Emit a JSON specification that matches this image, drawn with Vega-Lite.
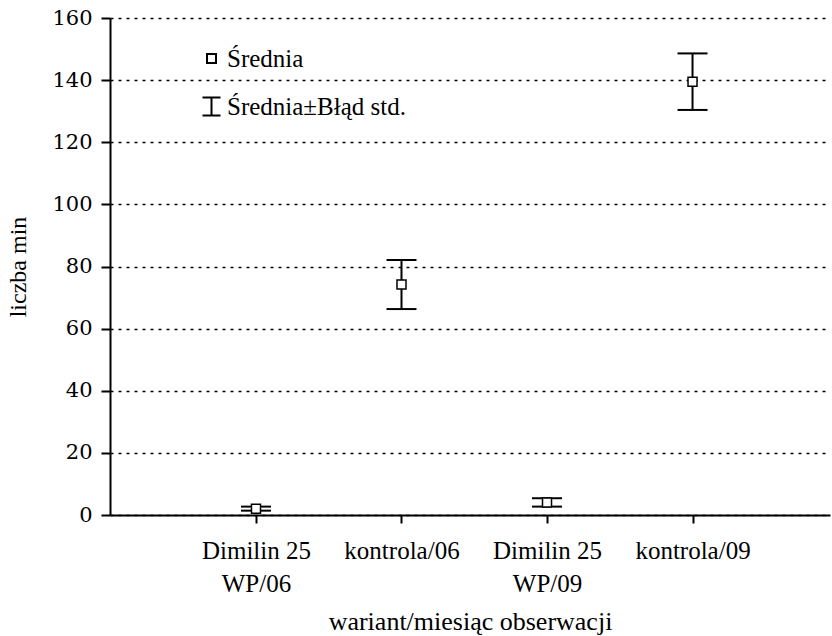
{
  "$schema": "https://vega.github.io/schema/vega-lite/v6.json",
  "autosize": "none",
  "width": 720,
  "height": 497,
  "padding": {"left": 110, "top": 18, "right": 2, "bottom": 121},
  "background": "white",
  "config": {
    "font": "Liberation Serif",
    "view": {"stroke": null},
    "axis": {
      "labelColor": "black",
      "titleColor": "black",
      "domainColor": "black",
      "tickColor": "black",
      "domainWidth": 2,
      "tickWidth": 2,
      "titleFontWeight": "normal"
    }
  },
  "data": {
    "values": [
      {"wariant": "Dimilin 25 WP/06", "srednia": 2.0, "dolna": 1.4, "gorna": 2.7, "seria": "Średnia"},
      {"wariant": "kontrola/06", "srednia": 74.2, "dolna": 66.3, "gorna": 82.1, "seria": "Średnia"},
      {"wariant": "Dimilin 25 WP/09", "srednia": 4.0, "dolna": 2.7, "gorna": 5.4, "seria": "Średnia"},
      {"wariant": "kontrola/09", "srednia": 139.5, "dolna": 130.4, "gorna": 148.6, "seria": "Średnia"}
    ]
  },
  "encoding": {
    "x": {
      "field": "wariant",
      "type": "nominal",
      "sort": null,
      "scale": {"type": "point", "padding": 0.974, "align": 0.515},
      "axis": {
        "title": "wariant/miesiąc obserwacji",
        "titleFontSize": 26,
        "titlePadding": 12,
        "labelFont": "Liberation Serif",
        "labelFontSize": 25,
        "labelAngle": 0,
        "labelPadding": 15,
        "labelLineHeight": 33,
        "labelExpr": "split(replace(datum.label, ' WP', '|WP'), '|')",
        "tickSize": 8,
        "grid": false
      }
    }
  },
  "layer": [
    {
      "mark": {"type": "rule", "color": "black", "strokeWidth": 2},
      "encoding": {
        "y": {
          "field": "dolna",
          "type": "quantitative",
          "scale": {"domain": [0, 160], "nice": false},
          "axis": {
            "title": "liczba min",
            "titleFontSize": 24,
            "titlePadding": 21,
            "labelFont": "DejaVu Serif",
            "labelFontSize": 21,
            "labelPadding": 9,
            "tickSize": 9,
            "values": [0, 20, 40, 60, 80, 100, 120, 140, 160],
            "grid": true,
            "gridColor": "black",
            "gridWidth": 1.6,
            "gridDash": [3, 5],
            "gridOpacity": 1
          }
        },
        "y2": {"field": "gorna"}
      }
    },
    {
      "mark": {"type": "tick", "color": "black", "size": 30, "thickness": 2, "orient": "horizontal", "opacity": 1},
      "encoding": {"y": {"field": "dolna", "type": "quantitative"}}
    },
    {
      "mark": {"type": "tick", "color": "black", "size": 30, "thickness": 2, "orient": "horizontal", "opacity": 1},
      "encoding": {"y": {"field": "gorna", "type": "quantitative"}}
    },
    {
      "mark": {"type": "point", "filled": false, "color": "black", "fill": "white", "strokeWidth": 1.5, "size": 324, "opacity": 1},
      "encoding": {
        "y": {"field": "srednia", "type": "quantitative"},
        "shape": {
          "field": "seria",
          "type": "nominal",
          "scale": {
            "domain": ["Średnia", "Średnia±Błąd std."],
            "range": ["M-0.5,-0.5H0.5V0.5H-0.5Z", "M-1,-1H1M0,-1V1M-1,1H1"]
          },
          "legend": {
            "title": null,
            "orient": "none",
            "legendX": 89,
            "legendY": 28,
            "padding": 0,
            "symbolSize": 324,
            "symbolStrokeWidth": 2,
            "labelFontSize": 25,
            "labelColor": "black",
            "labelOffset": 3,
            "rowPadding": 21,
            "labelLimit": 400
          }
        }
      }
    }
  ]
}
